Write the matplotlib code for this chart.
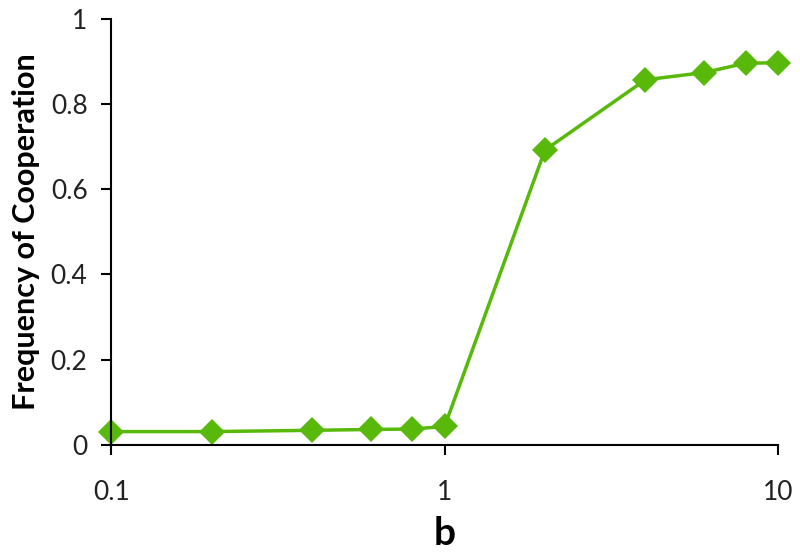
import matplotlib
matplotlib.use("Agg")
import matplotlib.pyplot as plt
from matplotlib.ticker import FixedLocator, NullLocator

plt.rcParams['font.family'] = ['Lato', 'DejaVu Sans']

# benefit values and measured cooperation frequency
b_vals = [0.1, 0.2, 0.4, 0.6, 0.8, 1, 2, 4, 6, 8, 10]
coop = [0.031, 0.031, 0.034, 0.036, 0.037, 0.043, 0.692, 0.857, 0.874, 0.896, 0.897]

x_ticks = [0.1, 1, 10]
x_labels = ["0.1", "1", "10"]
y_ticks = [0, 0.2, 0.4, 0.6, 0.8, 1]
y_labels = ["0", "0.2", "0.4", "0.6", "0.8", "1"]

green = "#58b90a"

fig = plt.figure(figsize=(8, 5.56), dpi=100)
ax = fig.add_axes([0.139, 0.2, 0.8335, 0.766])

ax.plot(b_vals, coop, color=green, lw=2.5, marker="D", ms=13.5,
        markeredgewidth=0, clip_on=False)

ax.set_xscale("log")
ax.set_xlim(0.1, 10)
ax.set_ylim(0, 1)
ax.xaxis.set_major_locator(FixedLocator(x_ticks))
ax.xaxis.set_minor_locator(NullLocator())
ax.set_xticklabels(x_labels)
ax.set_yticks(y_ticks)
ax.set_yticklabels(y_labels)

for s in ["top", "right"]:
    ax.spines[s].set_visible(False)
for s in ["left", "bottom"]:
    ax.spines[s].set_linewidth(1.5)
ax.tick_params(axis="both", direction="out", length=7, width=1.5,
               labelsize=19, colors="black", labelcolor="#222222")
ax.tick_params(axis="x", pad=18)
ax.tick_params(axis="y", pad=10)

ax.set_xlabel("b", fontsize=28, fontweight="bold", labelpad=8)
ax.set_ylabel("Frequency of Cooperation", fontsize=22, fontweight="bold", labelpad=8)

fig.savefig("out.png", dpi=100)
